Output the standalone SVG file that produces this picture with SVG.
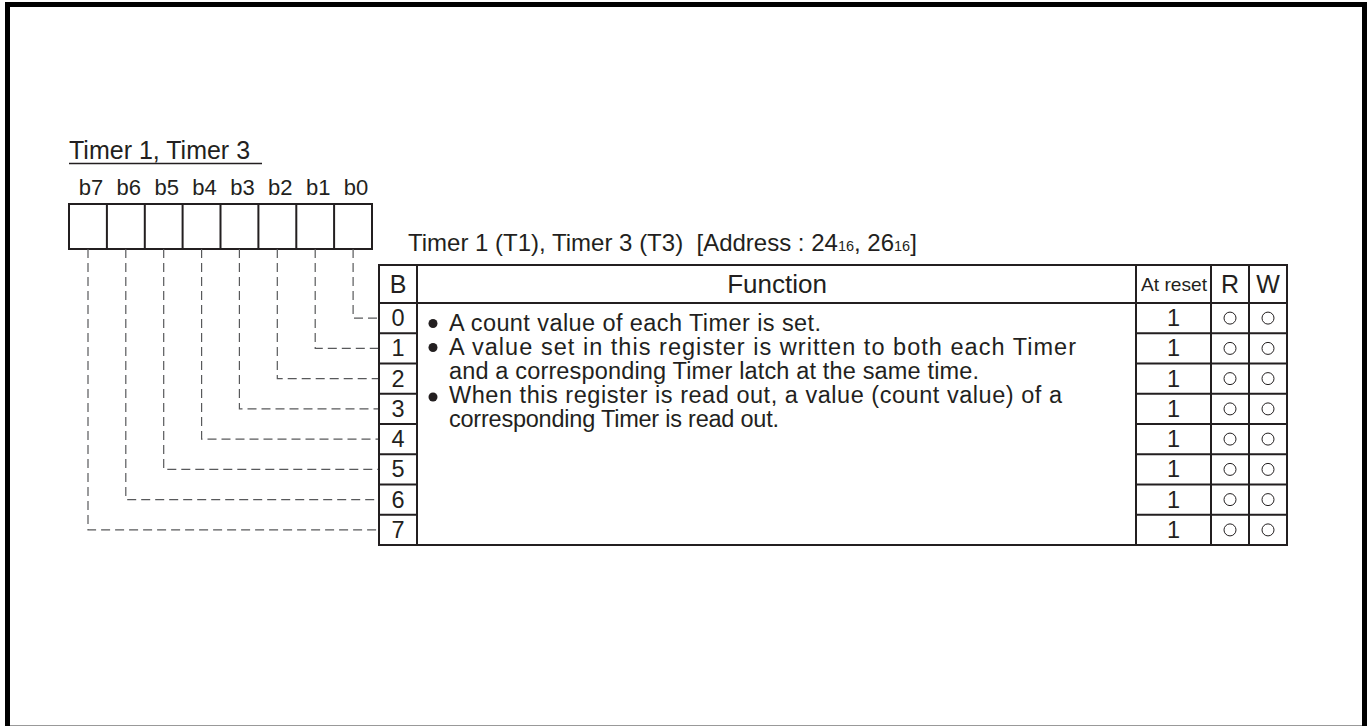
<svg xmlns="http://www.w3.org/2000/svg" width="1372" height="726" viewBox="0 0 1372 726">
<style>
text{font-family:"Liberation Sans",Arial,sans-serif;fill:#231f20;white-space:pre}
.ln{stroke:#231f20;stroke-width:2;fill:none}
.ds{stroke:#58595b;stroke-width:1.2;fill:none;stroke-dasharray:9,5}
.c{text-anchor:middle}
.rw{fill:none;stroke:#231f20;stroke-width:1}
.bu{font-size:23.5px}
</style>
<rect width="1372" height="726" fill="#fff"/>
<path d="M7.5,726 V4.5 H1364.5 V726" fill="none" stroke="#000" stroke-width="5"/>
<line x1="10" y1="725.5" x2="1362" y2="725.5" stroke="#999" stroke-width="1"/>

<g id="register">
<text x="69" y="159" font-size="25">Timer 1, Timer 3</text>
<line x1="69" y1="163.5" x2="262" y2="163.5" stroke="#231f20" stroke-width="1.5"/>
<g font-size="22">
<text x="91" y="195" class="c">b7</text>
<text x="128.8" y="195" class="c">b6</text>
<text x="166.7" y="195" class="c">b5</text>
<text x="204.6" y="195" class="c">b4</text>
<text x="242.4" y="195" class="c">b3</text>
<text x="280.3" y="195" class="c">b2</text>
<text x="318.2" y="195" class="c">b1</text>
<text x="356.1" y="195" class="c">b0</text>
</g>
<rect x="69" y="204" width="303" height="45" class="ln"/>
<path class="ln" d="M106.9,204V249 M144.8,204V249 M182.6,204V249 M220.5,204V249 M258.4,204V249 M296.3,204V249 M334.1,204V249"/>
</g>

<g id="connectors">
<path class="ds" d="M353.1,249 V318.1 H379"/>
<path class="ds" d="M315.2,249 V348.4 H379"/>
<path class="ds" d="M277.3,249 V378.6 H379"/>
<path class="ds" d="M239.4,249 V408.9 H379"/>
<path class="ds" d="M201.6,249 V439.1 H379"/>
<path class="ds" d="M163.7,249 V469.4 H379"/>
<path class="ds" d="M125.8,249 V499.6 H379"/>
<path class="ds" d="M88,249 V529.9 H379"/>
</g>

<g id="table">
<text x="408" y="251" font-size="24" xml:space="preserve">Timer 1 (T1), Timer 3 (T3)  [Address : 24<tspan font-size="14.5">16</tspan>, 26<tspan font-size="14.5">16</tspan>]</text>
<rect x="379" y="265" width="908" height="280" class="ln"/>
<path class="ln" d="M417,265V545 M1136,265V545 M1211,265V545 M1249,265V545 M379,303H1287"/>
<path class="ln" d="M379,333.25H417 M379,363.5H417 M379,393.75H417 M379,424H417 M379,454.25H417 M379,484.5H417 M379,514.75H417"/>
<path class="ln" d="M1136,333.25H1287 M1136,363.5H1287 M1136,393.75H1287 M1136,424H1287 M1136,454.25H1287 M1136,484.5H1287 M1136,514.75H1287"/>
<text x="398" y="293" font-size="25" class="c">B</text>
<text x="777" y="293" font-size="26" class="c">Function</text>
<text x="1174" y="291" font-size="19" class="c" textLength="66" lengthAdjust="spacingAndGlyphs">At reset</text>
<text x="1230" y="293" font-size="25" class="c">R</text>
<text x="1268" y="293" font-size="25" class="c">W</text>
<g font-size="23.5">
<text x="398" y="326" class="c">0</text>
<text x="398" y="356.4" class="c">1</text>
<text x="398" y="386.6" class="c">2</text>
<text x="398" y="416.9" class="c">3</text>
<text x="398" y="447.1" class="c">4</text>
<text x="398" y="477.4" class="c">5</text>
<text x="398" y="507.6" class="c">6</text>
<text x="398" y="537.9" class="c">7</text>
<text x="1173.5" y="326" class="c">1</text>
<text x="1173.5" y="356.4" class="c">1</text>
<text x="1173.5" y="386.6" class="c">1</text>
<text x="1173.5" y="416.9" class="c">1</text>
<text x="1173.5" y="447.1" class="c">1</text>
<text x="1173.5" y="477.4" class="c">1</text>
<text x="1173.5" y="507.6" class="c">1</text>
<text x="1173.5" y="537.9" class="c">1</text>
</g>
<g class="rw">
<circle cx="1230" cy="318.1" r="6"/><circle cx="1268" cy="318.1" r="6"/>
<circle cx="1230" cy="348.4" r="6"/><circle cx="1268" cy="348.4" r="6"/>
<circle cx="1230" cy="378.6" r="6"/><circle cx="1268" cy="378.6" r="6"/>
<circle cx="1230" cy="408.9" r="6"/><circle cx="1268" cy="408.9" r="6"/>
<circle cx="1230" cy="439.1" r="6"/><circle cx="1268" cy="439.1" r="6"/>
<circle cx="1230" cy="469.4" r="6"/><circle cx="1268" cy="469.4" r="6"/>
<circle cx="1230" cy="499.6" r="6"/><circle cx="1268" cy="499.6" r="6"/>
<circle cx="1230" cy="529.9" r="6"/><circle cx="1268" cy="529.9" r="6"/>
</g>
<g fill="#231f20">
<circle cx="433" cy="323.5" r="4.5"/>
<circle cx="433" cy="347.5" r="4.5"/>
<circle cx="433" cy="397" r="4.5"/>
</g>
<g class="bu">
<text x="449" y="331" textLength="372" lengthAdjust="spacing">A count value of each Timer is set.</text>
<text x="449" y="355" textLength="627" lengthAdjust="spacing">A value set in this register is written to both each Timer</text>
<text x="449" y="379" textLength="530" lengthAdjust="spacing">and a corresponding Timer latch at the same time.</text>
<text x="449" y="403" textLength="613" lengthAdjust="spacing">When this register is read out, a value (count value) of a</text>
<text x="449" y="427" textLength="330" lengthAdjust="spacing">corresponding Timer is read out.</text>
</g>
</g>
</svg>
